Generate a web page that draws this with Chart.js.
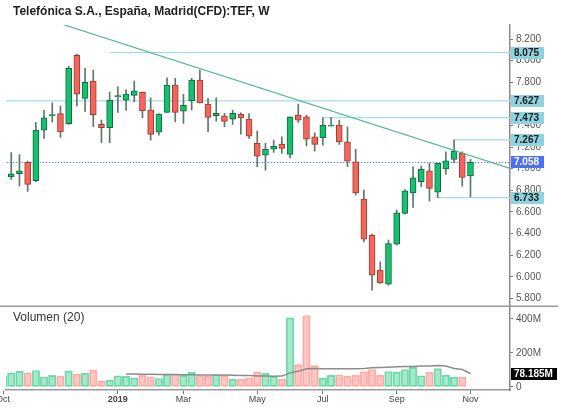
<!DOCTYPE html>
<html><head><meta charset="utf-8">
<script src="https://cdn.jsdelivr.net/npm/chart.js@4.4.1/dist/chart.umd.min.js"></script>
<style>html,body{margin:0;padding:0;background:#fff;overflow:hidden}#wrap{position:relative;width:562px;height:409px}</style>
</head><body><div id="wrap"><canvas id="c" width="562" height="409"></canvas></div>
<script>
const chartTitle = 'Telefónica S.A., España, Madrid(CFD):TEF, W';
const volumeTitle = 'Volumen (20)';
const weeks = ['2018-10-01','2018-10-08','2018-10-15','2018-10-22','2018-10-29','2018-11-05','2018-11-12','2018-11-19','2018-11-26','2018-12-03','2018-12-10','2018-12-17','2018-12-24','2018-12-31','2019-01-07','2019-01-14','2019-01-21','2019-01-28','2019-02-04','2019-02-11','2019-02-18','2019-02-25','2019-03-04','2019-03-11','2019-03-18','2019-03-25','2019-04-01','2019-04-08','2019-04-15','2019-04-22','2019-04-29','2019-05-06','2019-05-13','2019-05-20','2019-05-27','2019-06-03','2019-06-10','2019-06-17','2019-06-24','2019-07-01','2019-07-08','2019-07-15','2019-07-22','2019-07-29','2019-08-05','2019-08-12','2019-08-19','2019-08-26','2019-09-02','2019-09-09','2019-09-16','2019-09-23','2019-09-30','2019-10-07','2019-10-14','2019-10-21','2019-10-28','2019-11-04'];
const opens  = [6.86,6.925,6.953,7.06,6.89,7.357,7.49,7.51,7.416,8.05, 7.65,7.81,7.41,7.38,7.666,7.635,7.679,7.706,7.543,7.339, 7.521,7.774,7.533,7.629,7.82,7.598,7.49,7.49,7.459,7.503, 7.459,7.234,7.126,7.181,7.228,7.133,7.496,7.481,7.295,7.286, 7.394,7.404,7.249,7.064,6.719,6.385,6.061,5.931,6.302,6.586, 6.777,6.879,6.981,6.783,6.997,7.086,7.142,6.934];
const highs  = [6.93,7.15,7.13,7.07,7.43,7.54,7.61,7.58,7.95,8.06, 7.93,7.91,7.45,7.71,7.76,7.73,7.81,7.71,7.657,7.51, 7.842,7.836,7.688,7.836,7.913,7.651,7.657,7.512,7.543,7.518, 7.51,7.348,7.234,7.265,7.295,7.481,7.598,7.496,7.333,7.473, 7.475,7.45,7.388,7.179,6.802,6.394,6.138,6.339,6.617,6.808, 7.018,7.024,7.049,7.049,7.157,7.267,7.157,7.086];
const lows   = [6.83,6.90,6.84,6.79,6.88,7.28,7.43,7.29,7.41,7.58, 7.53,7.39,7.24,7.24,7.52,7.54,7.62,7.47,7.265,7.31, 7.52,7.434,7.419,7.543,7.61,7.342,7.44,7.388,7.41,7.32, 7.28,7.018,6.987,7.151,7.142,7.101,7.429,7.212,7.163,7.218, 7.394,7.225,7.018,6.756,6.323,5.876,5.938,5.922,6.293,6.58, 6.642,6.833,6.70,6.733,6.947,7.055,6.839,6.74];
const closes = [6.88,6.953,6.981,6.855,7.357,7.471,7.50,7.34,7.93,7.69, 7.80,7.50,7.38,7.635,7.676,7.69,7.721,7.536,7.318,7.506, 7.774,7.521,7.586,7.82,7.61,7.475,7.512,7.438,7.512,7.471, 7.302,7.117,7.181,7.209,7.188,7.481,7.45,7.274,7.225,7.404, 7.404,7.249,7.07,6.777,6.348,6.015,5.944,6.308,6.592,6.796, 6.916,6.997,6.818,7.049,7.073,7.163,6.919,7.058];
const volumes = [63,82,92,82,96,59,67,63,94,75, 80,100,35,39,65,61,53,67,59,49, 75,71,67,86,65,63,71,67,45,45, 53,88,80,59,45,406,131,420,125,51, 67,71,63,69,90,102,69,90,86,102, 116,65,86,108,69,57,57,null];
const volumeMA = [null,null,null,null,null,null,null,null,null,null, null,null,null,null,null,75,75,74,74,73, 73,72,71,71,70,70,69,69,68,67, 66,64,63,62,63,82,91,106,108,106, 106,106,106,107,108,112,113,115,118,119, 120,122,123,125,123,108,102,78.185];
const monthKeys   = ['2018-10','2019-01','2019-03','2019-05','2019-07','2019-09','2019-11'];
const monthLabels = ['Oct','2019','Mar','May','Jul','Sep','Nov'];
const priceTicks  = [5.8,6.0,6.2,6.4,6.6,6.8,7.0,7.2,7.4,7.6,7.8,8.0,8.2];
const volumeTicks = [0,200,400];
const levelPrices = [8.075, 7.627, 7.473, 7.267, 6.733];
const levelStarts = ['2018-12-31','2018-10-01','2019-07-01','2019-10-21','2019-10-07'];
const trendAnchors = [{week:'2018-11-26', price:8.318}, {week:'2019-10-28', price:7.145}];

const X_MIN = 0.36, X_MAX = 61.82;
const wk = d => weeks.indexOf(d);
const tickValues = monthKeys.map(k => weeks.findIndex(w => w.startsWith(k)));
const lastClose = closes[closes.length - 1];
const lastMA = volumeMA[volumeMA.length - 1];
const up = i => closes[i] >= opens[i];

const a0 = wk(trendAnchors[0].week), a1 = wk(trendAnchors[1].week);
const slope = (trendAnchors[1].price - trendAnchors[0].price) / (a1 - a0);
const trendAt = x => trendAnchors[0].price + slope * (x - a0);

Chart.defaults.font.family = '"Liberation Sans", Arial, sans-serif';

const deco = {
  id: 'deco',
  afterDraw(chart) {
    const {ctx} = chart;
    const yP = chart.scales.yP, yV = chart.scales.yV;
    ctx.save();
    ctx.strokeStyle = '#9a9a9a'; ctx.lineWidth = 1.5;
    ctx.beginPath(); ctx.moveTo(0, yP.bottom); ctx.lineTo(chart.width - 4, yP.bottom); ctx.stroke();
    ctx.textBaseline = 'middle'; ctx.textAlign = 'left';
    ctx.fillStyle = '#222'; ctx.font = 'bold 12px "Liberation Sans", Arial, sans-serif';
    ctx.fillText(chartTitle, 13, 12);
    ctx.fillStyle = '#333'; ctx.font = '12px "Liberation Sans", Arial, sans-serif';
    ctx.fillText(volumeTitle, 13, yV.top + 12);
    const box = (y, text, bg, fg, w) => {
      const x = yP.left + 1;
      ctx.fillStyle = bg; ctx.fillRect(x, Math.round(y) - 6, w, 12);
      ctx.fillStyle = fg; ctx.font = 'bold 10px "Liberation Sans", Arial, sans-serif';
      ctx.fillText(text, x + 3, Math.round(y) + 0.5);
    };
    levelPrices.forEach(p => box(yP.getPixelForValue(p), p.toFixed(3), '#8fd3e1', '#1a1a1a', 33));
    box(yP.getPixelForValue(lastClose), lastClose.toFixed(3), '#4d6ff3', '#ffffff', 33);
    box(yV.getPixelForValue(lastMA), lastMA.toFixed(3) + 'M', '#000000', '#ffffff', 46);
    ctx.restore();
  }
};

const lineDs = (data, color, width, order, dash) => ({
  type: 'line', data, yAxisID: 'yP', borderColor: color, borderWidth: width,
  pointRadius: 0, order, borderDash: dash || [], tension: 0
});

const datasets = [
  { label: 'wick', data: weeks.map((w, i) => ({x: i, y: [lows[i], highs[i]]})), yAxisID: 'yP',
    backgroundColor: '#5d7869', borderWidth: 0, barThickness: 1, grouped: false, order: 3 },
  { label: 'body', data: weeks.map((w, i) => ({x: i, y: [opens[i], closes[i]]})), yAxisID: 'yP',
    backgroundColor: c => up(c.dataIndex) ? '#17bf6e' : '#f3665b',
    borderColor: c => up(c.dataIndex) ? '#0c6b3e' : '#a03a32',
    borderWidth: 1, borderSkipped: false, barThickness: 6, grouped: false, order: 2 },
  { label: 'vol', data: weeks.map((w, i) => ({x: i, y: volumes[i]})), yAxisID: 'yV',
    backgroundColor: c => up(c.dataIndex) ? 'rgba(60,205,140,0.45)' : 'rgba(255,130,125,0.45)',
    borderColor: c => up(c.dataIndex) ? 'rgba(60,205,140,0.7)' : 'rgba(255,130,125,0.6)',
    borderWidth: 1, borderSkipped: false, barThickness: 7.5, grouped: false, order: 3 },
  { type: 'line', label: 'ma', data: weeks.map((w, i) => ({x: i, y: volumeMA[i]})), yAxisID: 'yV',
    borderColor: '#8c8c8c', borderWidth: 1.5, pointRadius: 0, order: 1 },
  ...levelPrices.map((p, k) => lineDs([{x: wk(levelStarts[k]), y: p}, {x: X_MAX, y: p}], '#a6dde8', 1.2, 5)),
  lineDs([{x: X_MIN - 1, y: lastClose}, {x: X_MAX, y: lastClose}], '#6479ea', 1, 5, [1.5, 1.5]),
  lineDs([{x: 0, y: trendAt(0)}, {x: X_MAX, y: trendAt(X_MAX)}], '#55b99b', 1.2, 0)
];

new Chart(document.getElementById('c'), {
  type: 'bar',
  data: { datasets },
  plugins: [deco],
  options: {
    responsive: false, animation: false, events: [],
    layout: { padding: { top: 25, left: 6, right: 0, bottom: 4 } },
    plugins: { legend: { display: false }, tooltip: { enabled: false }, title: { display: false } },
    scales: {
      x: {
        type: 'linear', min: X_MIN, max: X_MAX, offset: false,
        grid: { display: true, drawOnChartArea: false, offset: false, tickLength: 4, color: '#777' },
        border: { display: true, color: '#9a9a9a', width: 1.5 },
        afterBuildTicks: s => { s.ticks = tickValues.map(v => ({value: v})); },
        afterFit: s => { s.paddingLeft = 0; s.paddingRight = 0; },
        ticks: {
          autoSkip: false, maxRotation: 0, padding: 0, color: '#444',
          callback: v => monthLabels[tickValues.indexOf(v)] || '',
          font: c => ({ size: 9, weight: (c.tick && /^\d{4}$/.test(monthLabels[tickValues.indexOf(c.tick.value)])) ? 'bold' : 'normal' })
        }
      },
      yP: {
        type: 'linear', position: 'right', stack: 'panes', stackWeight: 281, min: 5.728, max: 8.33,
        grid: { display: true, drawOnChartArea: false, tickLength: 3, color: '#777' },
        border: { display: true, color: '#8a8a8a', width: 1.5 },
        afterBuildTicks: s => { s.ticks = priceTicks.map(v => ({value: v})); },
        afterFit: s => { s.width = 52; s.paddingTop = 0; s.paddingBottom = 0; },
        ticks: { autoSkip: false, padding: 3, color: '#555', font: { size: 10 }, callback: v => v.toFixed(3) }
      },
      yV: {
        type: 'linear', position: 'right', stack: 'panes', stackWeight: 84, min: -20, max: 475,
        grid: { display: true, drawOnChartArea: false, tickLength: 3, color: '#777' },
        border: { display: true, color: '#8a8a8a', width: 1.5 },
        afterBuildTicks: s => { s.ticks = volumeTicks.map(v => ({value: v})); },
        afterFit: s => { s.width = 52; s.paddingTop = 0; s.paddingBottom = 0; },
        ticks: { autoSkip: false, padding: 3, color: '#555', font: { size: 10 }, callback: v => v === 0 ? '0' : v + 'M' }
      }
    }
  }
});
</script></body></html>
